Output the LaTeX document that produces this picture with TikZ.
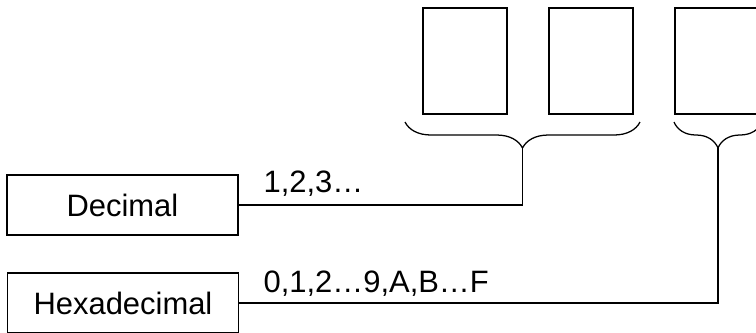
\documentclass[tikz,border=0pt]{standalone}
\usepackage{fontspec}
\setmainfont{Liberation Sans}
\usetikzlibrary{decorations.pathreplacing}

\begin{document}
\begin{tikzpicture}[
      font=\fontsize{22}{26}\selectfont,
      line width=0.9pt,
      digit/.style={rectangle,draw,minimum width=2.1cm,minimum height=2.65cm,inner sep=0pt},
      base/.style={rectangle,draw,minimum width=5.775cm,minimum height=1.5cm,inner sep=0pt},
      lbl/.style={anchor=base west,inner sep=0pt},
      grp/.style={decorate,decoration={brace,amplitude=0.65cm,mirror}}]

    \clip (0,0) rectangle (18.9,-8.3);

    % ---------- three digit places ----------
    \node[digit] (dA) at (11.625,-1.525) {};
    \node[digit] (dB) at (14.775,-1.525) {};
    \node[digit] (dC) at (17.925,-1.525) {};

    % ---------- braces under the places ----------
    \draw[grp] (10.125,-3.05) -- (16.0,-3.05);
    \draw[grp] (16.85,-3.05) -- (19.05,-3.05);
    \coordinate (tipA) at (13.0625,-3.7);
    \coordinate (tipB) at (17.95,-3.7);

    % ---------- number systems ----------
    \node[base] (dec) at (3.06,-5.125) {Decimal};
    \node[base] (hex) at (3.075,-7.575) {Hexadecimal};
    \draw (dec.east) -| (tipA);
    \draw (hex.east) -| (tipB);
    \node[lbl] (decd) at (6.575,-4.8) {1,2,3…};
    \node[lbl] (hexd) at (6.575,-7.3) {0,1,2…9,A,B…F};
  \end{tikzpicture}
\end{document}
